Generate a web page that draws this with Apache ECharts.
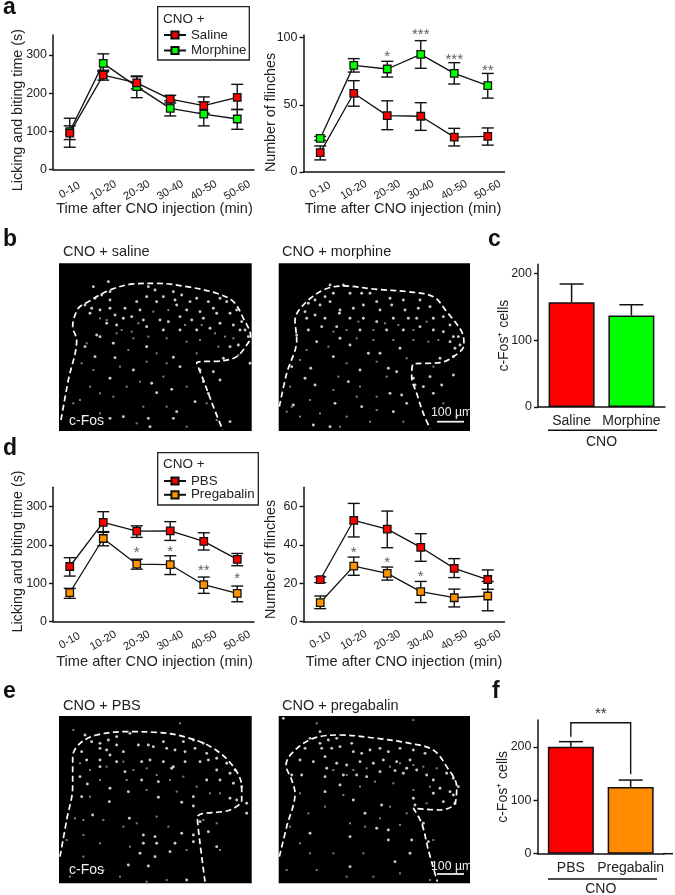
<!DOCTYPE html>
<html><head><meta charset="utf-8">
<style>html,body{margin:0;padding:0;background:#fff}#c{width:675px;height:895px}</style>
<script src="https://cdn.jsdelivr.net/npm/echarts@6/dist/echarts.min.js"></script>
</head><body><div id="c"></div>
<script>
const timeBins=['0-10','10-20','20-30','30-40','40-50','50-60'];
// a, left
const aL_saline=[95,247,227,184,167,189], aL_salineLo=[78,234,211,174,147,157], aL_salineHi=[114,260,245,194,190,223];
const aL_morph=[99,278,217,160,145,132], aL_morphLo=[58,256,188,140,114,105], aL_morphHi=[134,303,243,180,177,157];
// a, right
const aR_saline=[14.4,58.6,42,41.5,26,26.5], aR_salineLo=[9,49,31.5,31,19.4,20], aR_salineHi=[19.4,68,53,51.6,32.5,32.8];
const aR_morph=[25,79.4,76.7,87.6,73.4,64.3], aR_morphLo=[23.5,74.4,70.7,77.2,65.5,55], aR_morphHi=[26.5,84.4,82.4,97.8,81.4,73.4];
const aR_stars=[[2,88.3,'*'],[3,104.5,'***'],[4,86,'***'],[5,77.7,'**']];
// d, left
const dL_pbs=[144,259,236.5,237,209.5,162.6], dL_pbsLo=[119,233,220,212,187,146], dL_pbsHi=[167,287,250,261,232,178];
const dL_preg=[75.6,217,150,148.7,96.5,74], dL_pregLo=[61,198,137,123,74,52], dL_pregHi=[87,235,163,172,116.5,93];
const dL_stars=[[2,187,'*'],[3,190,'*'],[4,141,'**'],[5,119,'*']];
// d, right
const dR_pbs=[21.9,52.9,48.3,38.8,27.8,22], dR_pbsLo=[20.4,44.2,38.6,31.5,23,16.9], dR_pbsHi=[23.4,61.7,57.7,45.9,32.9,27];
const dR_preg=[10,29,25.2,15.7,12.5,13.4], dR_pregLo=[6.8,24.2,21.7,10,7.7,5.7], dR_pregHi=[13.4,33.7,28.5,21,17,21];
const dR_stars=[[1,37.7,'*'],[2,32.5,'*'],[3,25,'*']];
// c, f bars
const cNames=['Saline','Morphine'], cMeans=[156.6,137], cHi=[184,153];
const fNames=['PBS','Pregabalin'], fMeans=[200.6,125], fHi=[210,138];
const fBracket=[245.5,219,149];
// tick labels
const ticksA=[0,100,200,300], ticksAR=[0,50,100], ticksD=[0,20,40,60], ticksBar=[0,100,200];
// micrograph outlines in 3x crop pixels
const outlineBL=[[183,570],[205,450],[230,330],[218,290],[235,235],[265,215],[330,180],[400,162],[470,160],[560,170],[650,190],[700,215],[730,265],[752,320],[740,345],[710,380],[670,392],[590,398],[610,450],[640,530],[668,600]];
const outlineBR=[[838,530],[860,430],[890,330],[885,270],[910,225],[970,180],[1030,168],[1130,178],[1220,185],[1300,200],[1340,245],[1385,305],[1392,345],[1360,380],[1320,398],[1240,402],[1235,440],[1250,490],[1270,550],[1290,595]];
const outlineEL=[[180,530],[200,420],[218,320],[218,230],[240,190],[290,165],[380,155],[470,157],[560,172],[640,205],[700,260],[725,320],[725,360],[690,390],[592,412],[600,490],[615,605]];
const outlineER=[[838,530],[860,440],[885,340],[875,300],[858,255],[880,215],[940,175],[1020,165],[1130,175],[1230,190],[1300,210],[1340,260],[1370,320],[1365,370],[1320,390],[1240,385],[1265,430],[1285,510],[1312,605]];
const dotsBL=[[280,170],[325,155],[330,185],[285,205],[305,195],[330,210],[275,235],[300,240],[330,235],[345,255],[255,225],[270,250],[375,235],[410,215],[440,200],[445,170],[465,180],[490,200],[520,185],[525,210],[545,195],[570,215],[590,205],[625,215],[660,205],[680,215],[640,235],[600,245],[560,240],[530,225],[470,215],[420,240],[395,260],[370,265],[430,270],[480,270],[505,275],[540,260],[575,270],[610,265],[650,250],[690,250],[710,240],[725,275],[700,285],[735,300],[745,320],[720,300],[660,280],[630,295],[590,300],[540,300],[490,300],[440,290],[350,285],[320,280],[290,315],[300,320],[340,340],[440,350],[345,383],[520,382],[400,420],[330,445],[455,460],[515,478],[470,488],[530,545],[520,565],[585,515],[610,455],[625,490],[660,450],[690,575],[445,565],[450,590],[370,560],[330,565],[690,350],[715,345],[670,385],[750,400],[255,350],[285,380],[540,410],[640,425],[600,420]];
const dotsBR=[[990,165],[1030,165],[1000,190],[975,200],[945,210],[925,220],[960,225],[990,215],[1020,240],[1018,250],[975,265],[945,255],[920,265],[915,245],[1050,190],[1085,190],[1110,190],[1130,215],[1170,205],[1210,210],[1260,210],[1290,230],[1255,235],[1215,240],[1175,225],[1140,240],[1090,225],[1060,235],[1050,265],[1090,265],[1130,275],[1180,265],[1225,265],[1250,265],[1300,265],[1330,260],[1350,285],[1375,320],[1360,320],[1380,345],[1365,355],[1350,335],[1330,305],[1300,300],[1260,290],[1210,300],[1160,300],[1080,300],[1010,290],[965,290],[925,300],[890,315],[950,335],[1020,325],[1200,355],[1105,370],[1140,370],[1000,380],[1050,345],[932,415],[1080,420],[1165,415],[1190,425],[1360,435],[1290,440],[1325,465],[1270,470],[1245,465],[1240,445],[1300,490],[1205,495],[1220,520],[1170,490],[1045,455],[945,465],[1005,520],[915,445],[875,410],[990,590],[940,585],[1180,545],[1085,530],[1360,380],[1320,385],[880,525]];
const dotsEL=[[255,165],[275,185],[300,190],[325,180],[350,170],[350,195],[320,210],[300,205],[245,215],[260,240],[300,240],[330,225],[370,215],[390,160],[415,195],[445,195],[460,200],[490,185],[500,205],[525,210],[550,185],[580,180],[585,205],[555,215],[610,190],[620,220],[650,235],[680,250],[705,270],[690,280],[650,270],[625,240],[600,245],[555,245],[520,260],[490,245],[450,240],[425,245],[375,275],[350,245],[300,260],[240,290],[262,312],[330,325],[385,335],[425,300],[475,305],[475,352],[545,367],[580,350],[580,378],[515,265],[620,300],[660,300],[700,310],[725,320],[690,355],[710,360],[740,370],[740,400],[278,405],[388,415],[430,465],[465,470],[430,490],[470,490],[525,490],[510,515],[545,460],[580,465],[580,485],[625,455],[650,500],[420,520],[465,530],[445,558],[385,555],[328,365],[245,350],[600,425],[560,600]];
const dotsER=[[930,175],[960,190],[985,180],[1010,175],[965,205],[995,205],[1020,200],[975,230],[940,245],[915,205],[900,240],[905,285],[875,285],[1030,285],[1020,315],[975,335],[1085,220],[1060,215],[1055,190],[1110,210],[1140,205],[1165,215],[1200,205],[1240,210],[1275,220],[1230,240],[1190,245],[1150,240],[1120,250],[1080,245],[1040,255],[1010,250],[980,265],[1140,275],[1185,272],[1220,265],[1280,285],[1300,300],[1340,280],[1360,295],[1375,320],[1350,335],[1320,325],[1360,345],[1330,365],[1365,370],[1240,355],[1145,375],[1060,360],[1130,445],[1165,480],[1235,480],[1285,485],[1230,520],[1185,545],[1165,450],[930,460],[1095,400],[1050,470],[1050,560],[850,115],[960,155],[1300,340],[1270,430],[1245,375],[975,290],[1070,285],[1100,290],[1210,280],[1250,270]];
// fainter cells
const dimBL=[[300,265],[320,270],[365,300],[395,305],[415,280],[460,245],[505,240],[555,285],[605,285],[645,310],[675,320],[700,325],[715,375],[655,350],[600,330],[560,335],[500,325],[445,320],[400,325],[350,310],[260,340],[245,400],[280,420],[270,470],[240,510],[300,490],[340,500],[380,470],[420,455],[490,440],[560,470],[620,520],[560,590],[500,530],[430,530],[300,550],[250,560],[385,360],[470,370],[590,370],[440,395],[360,410],[500,400],[220,520],[410,580],[650,570]];
const dimBR=[[1000,305],[1040,300],[1075,275],[1120,300],[1155,280],[1195,285],[1240,300],[1280,275],[1315,330],[1285,335],[1240,330],[1180,330],[1120,330],[1070,325],[985,350],[920,360],[900,390],[1040,400],[1130,395],[1220,385],[1015,440],[1080,470],[1130,500],[1000,480],[930,510],[870,470],[860,545],[900,560],[960,550],[1040,560],[1110,575],[1210,575],[1330,520],[1370,560],[1300,410],[1160,440],[1070,500],[1130,540],[875,530],[1020,590]];
const dimEL=[[240,250],[270,270],[320,260],[370,245],[400,270],[440,265],[470,285],[510,300],[550,290],[590,320],[630,340],[660,340],[530,335],[440,330],[380,300],[300,300],[270,350],[310,420],[250,420],[225,415],[250,465],[300,490],[370,440],[410,430],[470,410],[505,440],[610,420],[650,430],[660,510],[560,510],[390,500],[250,530],[310,570],[360,590],[500,600],[440,605],[210,590],[200,480],[220,150],[540,130]];
const dimER=[[1000,270],[1040,285],[1060,270],[1100,265],[1170,260],[1200,250],[1240,255],[1270,260],[1310,265],[1290,320],[1240,330],[1180,310],[1125,305],[1080,320],[1030,345],[975,380],[900,340],[925,400],[870,440],[900,490],[930,520],[1000,520],[1090,520],[1050,430],[1095,440],[1140,415],[1200,435],[1300,480],[1200,580],[1120,590],[1040,590],[950,570],[860,570],[1240,120],[950,130],[1350,550],[1220,400],[1170,380],[1290,600],[1280,370]];

const TXT='#222', AX='#111', FONT='"Liberation Sans",Arial,sans-serif';
const grid=[],xAxis=[],yAxis=[],series=[],legend=[],graphic=[];

function errorSeries(g,lo,hi){
  series.push({type:'custom',xAxisIndex:g,yAxisIndex:g,clip:false,z:2,silent:true,
    data:timeBins.map((_,i)=>[i,lo[i],hi[i]]),
    encode:{x:0,y:[1,2]},
    renderItem(p,api){
      const a=api.coord([api.value(0),api.value(1)]),b=api.coord([api.value(0),api.value(2)]);
      const st={stroke:'#111',lineWidth:1.4,fill:null};
      return {type:'group',children:[
        {type:'line',shape:{x1:a[0],y1:a[1],x2:b[0],y2:b[1]},style:st},
        {type:'line',shape:{x1:a[0]-6,y1:a[1],x2:a[0]+6,y2:a[1]},style:st},
        {type:'line',shape:{x1:b[0]-6,y1:b[1],x2:b[0]+6,y2:b[1]},style:st}]};
    }});
}
function lineSeries(g,name,color,vals,z){
  series.push({type:'line',name,xAxisIndex:g,yAxisIndex:g,data:vals,symbol:'rect',symbolSize:7.5,z,clip:false,
    itemStyle:{color,borderColor:'#111',borderWidth:1.3},showSymbol:true,
    lineStyle:{color:'#111',width:1.3}});
}
function starSeries(g,data){
  series.push({type:'scatter',xAxisIndex:g,yAxisIndex:g,clip:false,symbolSize:0,silent:true,z:6,
    data,label:{show:true,position:'inside',offset:[0,3],formatter:p=>p.data[2],fontFamily:FONT,fontSize:15,color:'#333'}});
}
function lineGrid(left,top,h,max,ticks,yName,yGap,yPad,xGap,xPad,labMargin){
  const g=grid.length;
  grid.push({left,top,width:201,height:h,outerBoundsMode:'none'});
  xAxis.push({gridIndex:g,type:'category',data:timeBins,
    axisLine:{lineStyle:{color:AX,width:1.5}},
    axisTick:{alignWithLabel:true,length:4,lineStyle:{color:AX,width:1.4}},
    axisLabel:{rotate:30,align:'center',verticalAlign:'middle',fontFamily:FONT,fontSize:11.2,color:TXT,margin:labMargin,interval:0},
    name:'Time after CNO injection (min)',nameLocation:'middle',nameGap:xGap,nameMoveOverlap:false,
    nameTextStyle:{fontFamily:FONT,fontSize:14.6,color:TXT,padding:xPad}});
  yAxis.push({gridIndex:g,type:'value',min:0,max,splitLine:{show:false},
    axisLine:{show:true,lineStyle:{color:AX,width:1.5}},
    axisTick:{show:true,length:4,customValues:ticks,lineStyle:{color:AX,width:1.4}},
    axisLabel:{customValues:ticks,fontFamily:FONT,fontSize:12.5,color:TXT,margin:6},
    name:yName,nameLocation:'middle',nameGap:yGap,nameMoveOverlap:false,
    nameTextStyle:{fontFamily:FONT,fontSize:14.3,color:TXT,padding:yPad}});
  return g;
}
function barGrid(left,top,w,h,max,names,means,hi,colors,yNameGap,labDist){
  const g=grid.length;
  grid.push({left,top,width:w,height:h,outerBoundsMode:'none'});
  xAxis.push({gridIndex:g,type:'category',data:['CNO'],
    axisLine:{lineStyle:{color:AX,width:1.5}},axisTick:{show:false},
    axisLabel:{fontFamily:FONT,fontSize:14,color:TXT,margin:28}});
  yAxis.push({gridIndex:g,type:'value',min:0,max,splitLine:{show:false},
    axisLine:{show:true,lineStyle:{color:AX,width:1.5}},
    axisTick:{show:true,length:4,customValues:ticksBar,lineStyle:{color:AX,width:1.4}},
    axisLabel:{customValues:ticksBar,fontFamily:FONT,fontSize:12.5,color:TXT,margin:6},
    name:'c-Fos\u207A cells',nameLocation:'middle',nameGap:yNameGap,nameMoveOverlap:false,
    nameTextStyle:{fontFamily:FONT,fontSize:14,color:TXT}});
  names.forEach((n,i)=>{
    series.push({type:'bar',name:n,xAxisIndex:g,yAxisIndex:g,data:[means[i]],barWidth:46,barGap:'30%',z:3,
      itemStyle:{color:colors[i],borderColor:'#111',borderWidth:1.5},
      label:{show:true,position:'bottom',distance:labDist,formatter:n,fontFamily:FONT,fontSize:14,color:TXT}});
  });
  series.push({type:'custom',xAxisIndex:g,yAxisIndex:g,clip:false,z:2,silent:true,
    data:names.map((_,i)=>[0,means[i],hi[i],i]),encode:{x:0,y:[1,2]},
    renderItem(p,api){
      const lay=api.barLayout({barWidth:46,barGap:'30%',count:2})[api.value(3)];
      const a=api.coord([0,api.value(1)]),b=api.coord([0,api.value(2)]);
      const x=a[0]+lay.offsetCenter, st={stroke:'#111',lineWidth:1.5};
      return {type:'group',children:[
        {type:'line',shape:{x1:x,y1:a[1],x2:x,y2:b[1]},style:st},
        {type:'line',shape:{x1:x-12,y1:b[1],x2:x+12,y2:b[1]},style:st}]};
    }});
  return g;
}
function micro(left,top,x0,x1,y0,y1,outline,dots,dim,w,h){
  const g=grid.length;
  grid.push({left,top,width:w,height:h,show:true,backgroundColor:'#000',borderWidth:0,outerBoundsMode:'none'});
  xAxis.push({gridIndex:g,type:'value',min:x0,max:x1,show:false,splitLine:{show:false}});
  yAxis.push({gridIndex:g,type:'value',min:y0,max:y1,inverse:true,show:false,splitLine:{show:false}});
  series.push({type:'line',xAxisIndex:g,yAxisIndex:g,data:outline,symbol:'none',smooth:0.35,silent:true,
    lineStyle:{color:'#fff',width:1.7,type:[6,3.5]},z:3});
  series.push({type:'scatter',xAxisIndex:g,yAxisIndex:g,data:dim,symbol:'rect',symbolSize:2,silent:true,
    itemStyle:{color:'#fff',opacity:0.5},z:4});
  series.push({type:'scatter',xAxisIndex:g,yAxisIndex:g,data:dots,symbol:'circle',symbolSize:2.9,silent:true,
    itemStyle:{color:'#fff'},z:4});
}

// a
let g=lineGrid(53,35,134.3,352.5,ticksA,'Licking and biting time (s)',28,[0,16,0,0],32,[0,0,0,2],21);
errorSeries(g,aL_morphLo,aL_morphHi); errorSeries(g,aL_salineLo,aL_salineHi);
lineSeries(g,'Morphine','#00ff00',aL_morph,4); lineSeries(g,'Saline','#ff0000',aL_saline,5);
g=lineGrid(303.5,35,137,102,ticksAR,'Number of flinches',25,[0,18,0,0],29,[0,2,0,0],18);
errorSeries(g,aR_morphLo,aR_morphHi); errorSeries(g,aR_salineLo,aR_salineHi);
lineSeries(g,'Morphine','#00ff00',aR_morph,4); lineSeries(g,'Saline','#ff0000',aR_saline,5);
starSeries(g,aR_stars);
// d
g=lineGrid(53,487.3,134.4,350.6,ticksA,'Licking and biting time (s)',28,[0,0,0,6],33,[0,0,0,2],19);
errorSeries(g,dL_pregLo,dL_pregHi); errorSeries(g,dL_pbsLo,dL_pbsHi);
lineSeries(g,'Pregabalin','#ff9500',dL_preg,4); lineSeries(g,'PBS','#ff0000',dL_pbs,5);
starSeries(g,dL_stars);
g=lineGrid(303.5,487.3,134.4,70.1,ticksD,'Number of flinches',25,[0,10,0,0],33,[0,0,0,0],18.5);
errorSeries(g,dR_pregLo,dR_pregHi); errorSeries(g,dR_pbsLo,dR_pbsHi);
lineSeries(g,'Pregabalin','#ff9500',dR_preg,4); lineSeries(g,'PBS','#ff0000',dR_pbs,5);
starSeries(g,dR_stars);
// c, f
barGrid(538,264.3,127,142.7,213.5,cNames,cMeans,cHi,['#ff0000','#00ff00'],27,7);
g=barGrid(537.5,720,126.5,133.7,250.6,fNames,fMeans,fHi,['#ff0000','#ff8c00'],27,7);
series.push({type:'custom',xAxisIndex:g,yAxisIndex:g,clip:false,z:5,silent:true,
  data:[[0,fBracket[0],fBracket[1],fBracket[2]]],encode:{x:0,y:[1,2,3]},
  renderItem(p,api){
    const lay=api.barLayout({barWidth:46,barGap:'30%',count:2});
    const t=api.coord([0,api.value(1)]),l=api.coord([0,api.value(2)]),r=api.coord([0,api.value(3)]);
    const xl=t[0]+lay[0].offsetCenter,xr=t[0]+lay[1].offsetCenter;
    return {type:'group',children:[
      {type:'polyline',shape:{points:[[xl,l[1]],[xl,t[1]],[xr,t[1]],[xr,r[1]]]},style:{stroke:'#111',lineWidth:1.4,fill:null}},
      {type:'text',style:{text:'**',x:(xl+xr)/2,y:t[1]-9,align:'center',verticalAlign:'middle',fontFamily:FONT,fontSize:15,fill:'#333'}}]};
  }});
// micrographs, axes in crop pixels
micro(59,263.3,177,755,100,603,outlineBL,dotsBL,dimBL,192.7,167.7);
micro(278.7,263.3,836,1410,100,603,outlineBR,dotsBR,dimBR,191.3,167.7);
micro(59,716,177,755,108,610,outlineEL,dotsEL,dimEL,192.7,167.3);
micro(278.7,716,836,1410,108,610,outlineER,dotsER,dimER,191.3,167.3);

// legends
function lg(top,data,gap){legend.push({left:163,top,padding:0,orient:'vertical',data,itemWidth:22,itemHeight:9,itemGap:gap,selectedMode:false,
  textStyle:{fontFamily:FONT,fontSize:13.3,color:TXT}});}
lg(28.5,['Saline','Morphine'],2.5);
lg(474.5,['PBS','Pregabalin'],0.8);

function txt(text,x,y,opt){graphic.push(Object.assign({type:'text',x,y,silent:true,z:20,style:Object.assign({text,fill:TXT,fontFamily:FONT,fontSize:14.5,verticalAlign:'middle'},opt||{})}));}
graphic.push({type:'rect',shape:{x:157.7,y:6.7,width:91.6,height:53.3},style:{fill:'#fff',stroke:'#222',lineWidth:1.3},z:0,silent:true});
graphic.push({type:'rect',shape:{x:157.7,y:452.7,width:100.6,height:52.3},style:{fill:'#fff',stroke:'#222',lineWidth:1.3},z:0,silent:true});
txt('CNO +',163,19,{fontSize:13.5}); txt('CNO +',163,464.5,{fontSize:13.5});
[['a',3,8],['b',3,240],['c',488,240],['d',3,449],['e',3,692],['f',492,692]].forEach(a=>txt(a[0],a[1],a[2],{fontSize:23,fontWeight:'bold',fill:'#111'}));
txt('CNO + saline',63,252); txt('CNO + morphine',282,252);
txt('CNO + PBS',63,706); txt('CNO + pregabalin',282,706);
txt('c-Fos',69,421,{fill:'#eee',fontSize:14}); txt('c-Fos',69,870,{fill:'#eee',fontSize:14});
txt('100 \u00B5m',431,413,{fill:'#eee',fontSize:12.3}); txt('100 \u00B5m',431,867,{fill:'#eee',fontSize:12.3});
[[437,464,421.7],[437,464,874]].forEach(s=>graphic.push({type:'line',shape:{x1:s[0],y1:s[2],x2:s[1],y2:s[2]},style:{stroke:'#eee',lineWidth:1.8},z:20,silent:true}));
[[548,657,430.3],[548,657,879]].forEach(s=>graphic.push({type:'line',shape:{x1:s[0],y1:s[2],x2:s[1],y2:s[2]},style:{stroke:'#111',lineWidth:1.4},z:20,silent:true}));
graphic.push({type:'line',shape:{x1:663,y1:853.7,x2:673,y2:853.7},style:{stroke:AX,lineWidth:1.5},z:20,silent:true});

echarts.init(document.getElementById('c'),null,{renderer:'canvas'}).setOption({
  animation:false,backgroundColor:'#fff',textStyle:{fontFamily:FONT},
  grid,xAxis,yAxis,series,legend,graphic});
</script></body></html>
